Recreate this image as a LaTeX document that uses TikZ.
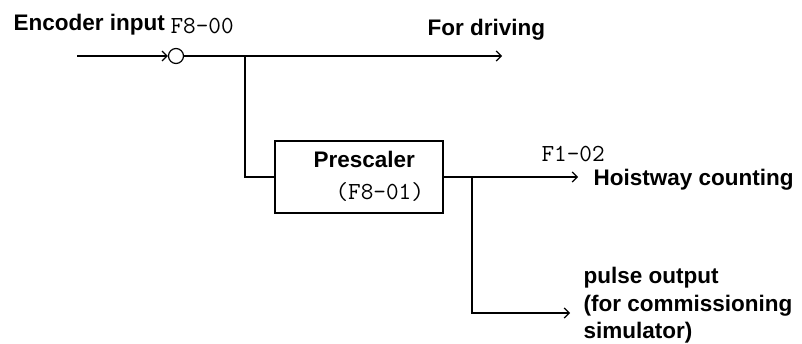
\documentclass[tikz,border=0pt]{standalone}
\usepackage{fontspec}
\setmainfont{Liberation Sans}
\usetikzlibrary{arrows.meta}

\begin{document}
\begin{tikzpicture}[x=1pt, y=-1pt, >={Straight Barb[length=5pt,width=10pt]}, line width=1.2pt]
\tikzset{lbl/.style={anchor=base west, inner sep=0pt, font=\fontsize{22.5}{27.5}\selectfont\bfseries},
  code/.style={anchor=base west, inner sep=0pt, font=\fontsize{24.5}{28}\selectfont\ttfamily}}
\useasboundingbox (0,0) rectangle (802,343);
\coordinate (in) at (77,56);\node[draw, circle, inner sep=0pt, minimum size=15] (enc) at (176,56) {};
\coordinate (b1) at (245,56);\coordinate (drv) at (502,56);
\node[draw, minimum width=168, minimum height=72] (pre) at (359,177) {};
\coordinate (b2) at (472,177);\coordinate (hw) at (578,177);\coordinate (pls) at (570,313);
\draw[->] (in) -- (enc.west);\draw[->] (enc.east) -- (drv);
\draw (b1) |- (pre.west);\draw[->] (pre.east) -- (hw);\draw[->] (b2) |- (pls);
\node[lbl] (enclbl) at (13,30) {Encoder input};\node[code] (f800) at (170,33) {F8-00};
\node[lbl] (drvlbl) at (427,35) {For driving};
\node[lbl] (prelbl) at (313,167) {Prescaler};\node[code] (f801) at (335,199) {(F8-01)};
\node[code] (f102) at (541,161) {F1-02};\node[lbl] (hwlbl) at (593,185) {Hoistway counting};
\node[lbl, anchor=north west, align=left] (plslbl) at (583,267) {pulse output\\(for commissioning\\simulator)};
\end{tikzpicture}
\end{document}
